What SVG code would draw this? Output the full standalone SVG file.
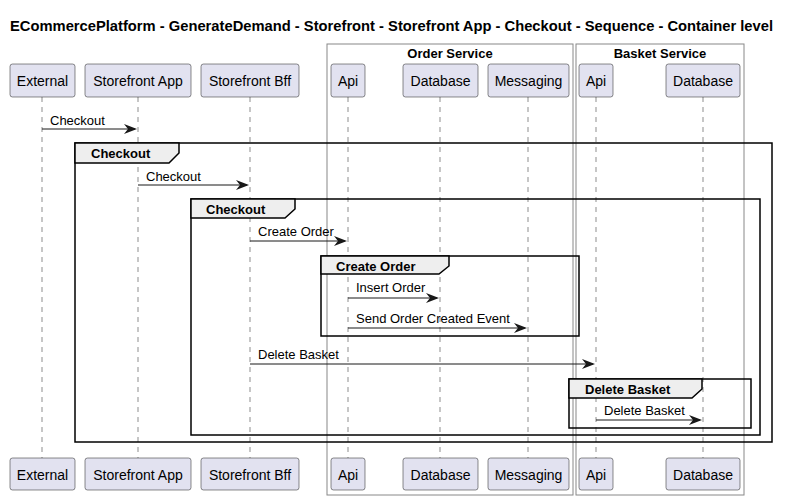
<svg xmlns="http://www.w3.org/2000/svg" width="791" height="500" viewBox="0 0 791 500">
<style>
text{font-family:"Liberation Sans",Arial,sans-serif;fill:#000}
.title{font-size:14.6px;font-weight:bold}
.bt{font-size:13px;font-weight:bold;text-anchor:middle}
.p rect{fill:#E2E2F0;stroke:#181818;stroke-width:0.5}
.p text{font-size:14px;text-anchor:middle}
.life{stroke:#181818;stroke-width:0.5;stroke-dasharray:5,5}
.box{fill:none;stroke:#888;stroke-width:1}
.msg line{stroke:#181818;stroke-width:1}
.msg polygon{fill:#181818}
.msg text{font-size:13px}
.frame rect{fill:none;stroke:#000;stroke-width:1.5}
.frame polygon{fill:#EEEEEE;stroke:#000;stroke-width:1.5}
.frame text{font-size:13px;font-weight:bold}
</style>
<rect width="791" height="500" fill="#fff"/>
<text class="title" x="10" y="31" textLength="763" lengthAdjust="spacingAndGlyphs">ECommercePlatform - GenerateDemand - Storefront - Storefront App - Checkout - Sequence - Container level</text>
<g id="boxes">
<rect class="box" x="327" y="44" width="246" height="451"/>
<text class="bt" x="450" y="58">Order Service</text>
<rect class="box" x="576" y="44" width="168" height="451"/>
<text class="bt" x="660" y="58">Basket Service</text>
</g>
<g id="lifelines">
<line class="life" x1="42" y1="97" x2="42" y2="458"/>
<line class="life" x1="138" y1="97" x2="138" y2="458"/>
<line class="life" x1="250" y1="97" x2="250" y2="458"/>
<line class="life" x1="348" y1="97" x2="348" y2="458"/>
<line class="life" x1="440" y1="97" x2="440" y2="458"/>
<line class="life" x1="528" y1="97" x2="528" y2="458"/>
<line class="life" x1="596" y1="97" x2="596" y2="458"/>
<line class="life" x1="703" y1="97" x2="703" y2="458"/>
</g>
<g id="external" class="p"><rect x="10" y="64" width="65" height="33" rx="2.5"/><text x="42.5" y="86">External</text><rect x="10" y="458" width="65" height="32" rx="2.5"/><text x="42.5" y="480">External</text></g>
<g id="storefront-app" class="p"><rect x="85" y="64" width="106" height="33" rx="2.5"/><text x="138" y="86">Storefront App</text><rect x="85" y="458" width="106" height="32" rx="2.5"/><text x="138" y="480">Storefront App</text></g>
<g id="storefront-bff" class="p"><rect x="201" y="64" width="98" height="33" rx="2.5"/><text x="250" y="86">Storefront Bff</text><rect x="201" y="458" width="98" height="32" rx="2.5"/><text x="250" y="480">Storefront Bff</text></g>
<g id="order-api" class="p"><rect x="331" y="64" width="34" height="33" rx="2.5"/><text x="348" y="86">Api</text><rect x="331" y="458" width="34" height="32" rx="2.5"/><text x="348" y="480">Api</text></g>
<g id="order-database" class="p"><rect x="403" y="64" width="75" height="33" rx="2.5"/><text x="440.5" y="86">Database</text><rect x="403" y="458" width="75" height="32" rx="2.5"/><text x="440.5" y="480">Database</text></g>
<g id="order-messaging" class="p"><rect x="488" y="64" width="81" height="33" rx="2.5"/><text x="528.5" y="86">Messaging</text><rect x="488" y="458" width="81" height="32" rx="2.5"/><text x="528.5" y="480">Messaging</text></g>
<g id="basket-api" class="p"><rect x="579" y="64" width="34" height="33" rx="2.5"/><text x="596" y="86">Api</text><rect x="579" y="458" width="34" height="32" rx="2.5"/><text x="596" y="480">Api</text></g>
<g id="basket-database" class="p"><rect x="666" y="64" width="74" height="33" rx="2.5"/><text x="703" y="86">Database</text><rect x="666" y="458" width="74" height="32" rx="2.5"/><text x="703" y="480">Database</text></g>
<g id="frames">
<g class="frame"><rect x="75" y="143" width="697" height="299"/><polygon points="75,143 179,143 179,153 169,163 75,163"/><text x="91" y="158">Checkout</text></g>
<g class="frame"><rect x="191" y="199" width="569" height="236"/><polygon points="191,199 295,199 295,209 285,218 191,218"/><text x="206" y="214">Checkout</text></g>
<g class="frame"><rect x="321" y="256" width="258" height="80"/><polygon points="321,256 449,256 449,266 439,274 321,274"/><text x="336" y="271">Create Order</text></g>
<g class="frame"><rect x="569" y="379" width="182" height="49"/><polygon points="569,379 702,379 702,389 692,398 569,398"/><text x="585" y="394">Delete Basket</text></g>
</g>
<g id="connectors" class="msg">
<line x1="42" y1="129" x2="135" y2="129"/><polygon points="124,124 137,129 124,134 128,129"/><text x="50" y="125">Checkout</text>
<line x1="138" y1="185" x2="247" y2="185"/><polygon points="236,180 249,185 236,190 240,185"/><text x="146" y="181">Checkout</text>
<line x1="250" y1="241" x2="345" y2="241"/><polygon points="334,236 347,241 334,246 338,241"/><text x="258" y="236">Create Order</text>
<line x1="348" y1="298" x2="437" y2="298"/><polygon points="426,293 439,298 426,303 430,298"/><text x="356" y="292">Insert Order</text>
<line x1="348" y1="328" x2="525" y2="328"/><polygon points="514,323 527,328 514,333 518,328"/><text x="356" y="323">Send Order Created Event</text>
<line x1="250" y1="364" x2="593" y2="364"/><polygon points="582,359 595,364 582,369 586,364"/><text x="258" y="359">Delete Basket</text>
<line x1="596" y1="420" x2="700" y2="420"/><polygon points="689,415 702,420 689,425 693,420"/><text x="604" y="415">Delete Basket</text>
</g>
</svg>
